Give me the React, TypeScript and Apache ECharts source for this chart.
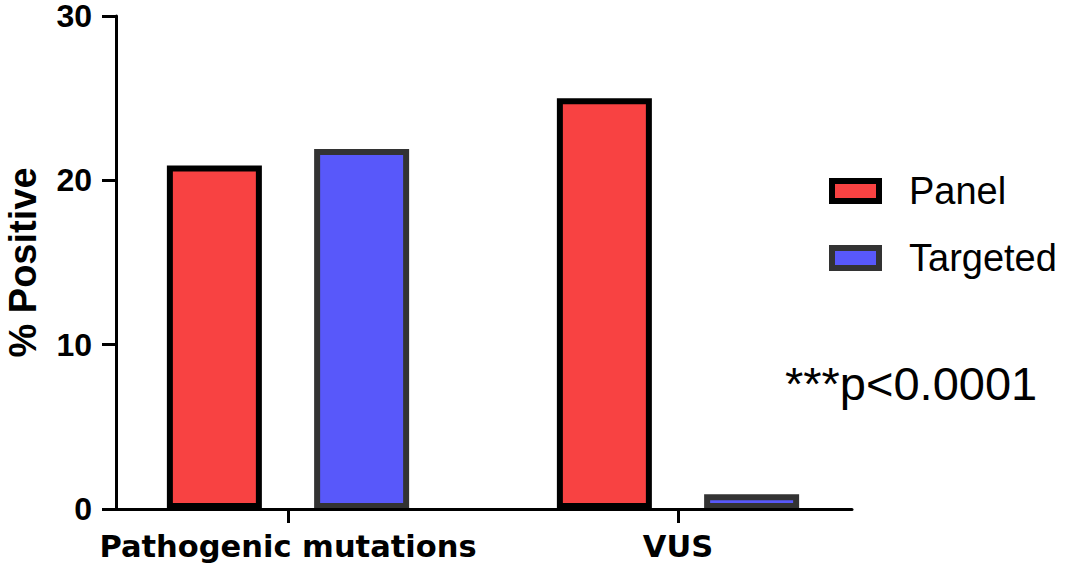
import React, { useEffect, useRef } from "react";
import * as echarts from "echarts";

const categories = ["Pathogenic mutations", "VUS"];
const panelValues = [20.9, 25.0];
const targetedValues = [21.9, 0.9];
const yTicks = [0, 10, 20, 30];
const seriesNames = ["Panel", "Targeted"];
const annotation = "***p<0.0001";

export default function App() {
  const ref = useRef<HTMLDivElement>(null);
  useEffect(() => {
    if (!ref.current) return;
    const chart = echarts.init(ref.current, null, { renderer: "svg" });
    const yMax = yTicks[yTicks.length - 1];
    const option: any = {
      animation: false,
      backgroundColor: "#ffffff",
      grid: [
        { left: 93, right: 195, top: 16, bottom: 62, containLabel: false, outerBoundsMode: "none" },
        { left: 116, right: 216, top: 16, bottom: 62, containLabel: false, outerBoundsMode: "none" },
      ],
      xAxis: [
        {
          type: "category",
          gridIndex: 0,
          data: categories,
          axisLine: { show: false },
          axisTick: {
            show: true,
            alignWithLabel: true,
            length: 14,
            lineStyle: { color: "#000", width: 3 },
          },
          axisLabel: {
            interval: 0,
            margin: 22,
            color: "#000",
            fontFamily: "DejaVu Sans",
            fontWeight: "bold",
            fontSize: 30.5,
          },
          z: 3,
        },
        {
          type: "value",
          gridIndex: 1,
          min: 0,
          max: 1,
          axisLine: { show: true, lineStyle: { color: "#000", width: 3 } },
          axisTick: { show: false },
          axisLabel: { show: false },
          splitLine: { show: false },
          z: 3,
        },
      ],
      yAxis: [
        {
          type: "value",
          gridIndex: 0,
          min: 0,
          max: yMax,
          show: false,
          splitLine: { show: false },
        },
        {
          type: "value",
          gridIndex: 1,
          min: 0,
          max: yMax,
          interval: 10,
          axisLine: { show: true, lineStyle: { color: "#000", width: 3 } },
          axisTick: { show: true, length: 14, lineStyle: { color: "#000", width: 3 } },
          axisLabel: {
            margin: 24,
            color: "#000",
            fontFamily: "Liberation Sans",
            fontWeight: "bold",
            fontSize: 32,
            lineHeight: 28,
          },
          splitLine: { show: false },
          name: "% Positive",
          nameLocation: "middle",
          nameGap: 77,
          nameTextStyle: {
            color: "#000",
            fontFamily: "Liberation Sans",
            fontWeight: "bold",
            fontSize: 38,
            lineHeight: 32,
          },
          z: 3,
        },
      ],
      legend: {
        orient: "vertical",
        left: 829,
        top: 172,
        padding: 0,
        itemWidth: 47,
        itemHeight: 20,
        itemGap: 29,
        selectedMode: false,
        textStyle: {
          color: "#000",
          fontFamily: "Liberation Sans",
          fontSize: 38,
          padding: [0, 0, 0, 25],
        },
        data: [
          { name: seriesNames[0], icon: "rect", itemStyle: { color: "#f84242", borderColor: "#000", borderWidth: 6 } },
          { name: seriesNames[1], icon: "rect", itemStyle: { color: "#5858fa", borderColor: "#333", borderWidth: 6 } },
        ],
      },
      graphic: [
        {
          type: "text",
          x: 785,
          y: 383,
          style: {
            text: annotation,
            fill: "#000",
            font: "47px 'Liberation Sans'",
            verticalAlign: "middle",
            align: "left",
          },
        },
      ],
      series: [
        {
          name: seriesNames[0],
          type: "bar",
          xAxisIndex: 0,
          yAxisIndex: 0,
          data: panelValues,
          barWidth: 95,
          barGap: "55%",
          itemStyle: { color: "#f84242", borderColor: "#000", borderWidth: 6 },
        },
        {
          name: seriesNames[1],
          type: "bar",
          xAxisIndex: 0,
          yAxisIndex: 0,
          data: targetedValues,
          barWidth: 95,
          barGap: "55%",
          itemStyle: { color: "#5858fa", borderColor: "#333", borderWidth: 6 },
        },
      ],
    };
    chart.setOption(option);
    return () => chart.dispose();
  }, []);
  return (
    <div
      ref={ref}
      style={{ position: "absolute", left: 0, top: 0, width: 1068, height: 571 }}
    />
  );
}
